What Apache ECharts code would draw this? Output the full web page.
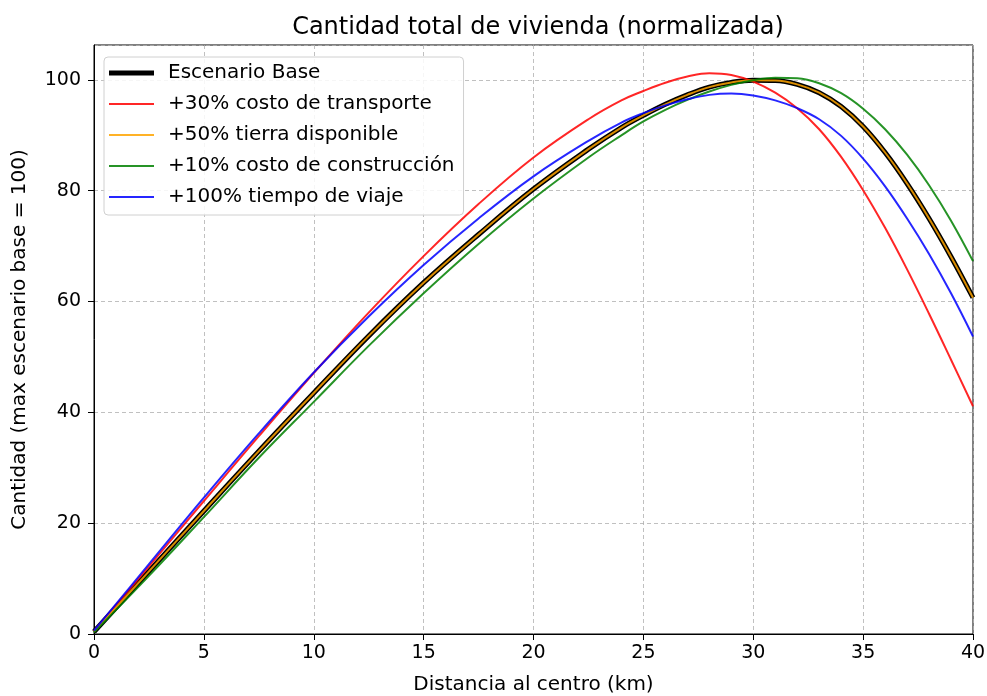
<!DOCTYPE html>
<html>
<head>
<meta charset="utf-8">
<script src="https://cdn.jsdelivr.net/npm/echarts@6/dist/echarts.min.js"></script>
<style>
html,body{margin:0;padding:0;background:#fff;}
#chart{width:987px;height:696px;}
</style>
</head>
<body>
<div id="chart"></div>
<script>
// Data
const distancias    = [0, 2.5, 5, 7.5, 10, 12.5, 15, 17.5, 20, 22.5, 24, 25, 26, 27, 28, 29, 30, 31, 32, 33, 34, 35, 36, 37, 38, 39, 40];
const escenarioBase = [0.4, 11.3, 22.2, 33.0, 43.5, 53.8, 63.4, 72.1, 80.3, 87.5, 91.4, 93.6, 95.6, 97.3, 98.7, 99.55, 99.95, 99.9, 99.2, 97.7, 95.2, 91.6, 86.9, 81.3, 75.0, 68.1, 60.7];
const transporte30  = [0.5, 12.2, 24.0, 35.7, 47.1, 58.0, 68.2, 77.6, 86.0, 92.9, 96.3, 98.0, 99.5, 100.6, 101.2, 100.9, 99.7, 97.7, 94.9, 91.1, 86.1, 80.1, 73.3, 65.8, 57.8, 49.5, 41.1];
const tierra50      = escenarioBase.slice();
const construccion10= [0.3, 10.5, 21.1, 31.8, 41.9, 52.0, 61.5, 70.4, 78.6, 86.0, 90.0, 92.5, 94.6, 96.4, 97.9, 99.1, 99.95, 100.4, 100.3, 99.4, 97.6, 94.8, 91.1, 86.5, 81.0, 74.6, 67.3];
const viaje100      = [0.6, 12.6, 24.6, 36.2, 47.2, 57.3, 66.6, 75.0, 82.6, 89.0, 92.3, 94.0, 95.4, 96.5, 97.3, 97.55, 97.2, 96.3, 94.9, 92.9, 89.9, 85.8, 80.8, 75.0, 68.6, 61.5, 53.7];
const xTicks = [0, 5, 10, 15, 20, 25, 30, 35, 40];
const yTicks = [0, 20, 40, 60, 80, 100];
const nombres = ['Escenario Base', '+30% costo de transporte', '+50% tierra disponible', '+10% costo de construcción', '+100% tiempo de viaje'];

const pairs = (ys) => distancias.map((x, i) => [x, ys[i]]);

const font = 'DejaVu Sans';
const chart = echarts.init(document.getElementById('chart'), null, {renderer: 'canvas'});

function mkSeries(name, ys, color, width, opacity, z) {
  return {
    name: name,
    type: 'line',
    data: pairs(ys),
    smooth: 0.4,
    showSymbol: false,
    symbol: 'none',
    z: z,
    lineStyle: {color: color, width: width, opacity: opacity},
    itemStyle: {color: color, opacity: opacity},
    emphasis: {disabled: true},
    animation: false
  };
}

const thick = 'path://M0,0h45v5h-45z';
const thin = 'path://M0,0h45v1.8h-45z';

chart.setOption({
  animation: false,
  backgroundColor: '#fff',
  title: {
    text: 'Cantidad total de vivienda (normalizada)',
    left: 533, top: 11, textAlign: 'center',
    textStyle: {fontFamily: font, fontSize: 24, fontWeight: 'normal', color: '#000'}
  },
  grid: {
    left: 94, top: 45, width: 879, height: 589,
    outerBoundsMode: 'none', containLabel: false,
    show: true, borderColor: '#000', borderWidth: 1, backgroundColor: 'transparent'
  },
  legend: {
    orient: 'vertical',
    left: 104, top: 57,
    padding: [6, 9, 8, 5],
    itemWidth: 45, itemHeight: 14, itemGap: 11,
    symbolKeepAspect: true,
    backgroundColor: 'rgba(255,255,255,0.85)',
    borderColor: '#d0d0d0', borderWidth: 1, borderRadius: 4,
    textStyle: {fontFamily: font, fontSize: 20, lineHeight: 20, color: '#000', padding: [0, 0, 0, 9]},
    data: [
      {name: nombres[0], icon: thick},
      {name: nombres[1], icon: thin},
      {name: nombres[2], icon: thin},
      {name: nombres[3], icon: thin},
      {name: nombres[4], icon: thin}
    ]
  },
  xAxis: {
    type: 'value', min: 0, max: 40, interval: 5,
    name: 'Distancia al centro (km)', nameLocation: 'middle', nameGap: 41,
    nameTextStyle: {fontFamily: font, fontSize: 20, color: '#000'},
    axisLine: {show: true, lineStyle: {color: '#000', width: 1}},
    axisTick: {show: true, length: 6, lineStyle: {color: '#000'}},
    axisLabel: {fontFamily: font, fontSize: 19, color: '#000', margin: 10,
      formatter: (v) => xTicks.includes(v) ? String(v) : ''},
    splitLine: {show: true, lineStyle: {color: '#b0b0b0', type: [4, 3], width: 0.8}}
  },
  yAxis: {
    type: 'value', min: 0, max: 106.3, interval: 20,
    name: 'Cantidad (max escenario base = 100)', nameLocation: 'middle', nameGap: 64,
    nameTextStyle: {fontFamily: font, fontSize: 20, color: '#000'},
    axisLine: {show: true, lineStyle: {color: '#000', width: 1}},
    axisTick: {show: true, length: 6, lineStyle: {color: '#000'}},
    axisLabel: {fontFamily: font, fontSize: 19, color: '#000', margin: 13, showMaxLabel: false,
      formatter: (v) => yTicks.includes(v) ? String(v) : ''},
    splitLine: {show: true, lineStyle: {color: '#b0b0b0', type: [4, 3], width: 0.8}}
  },
  series: [
    mkSeries(nombres[0], escenarioBase, '#000000', 5, 1, 2),
    mkSeries(nombres[1], transporte30, '#ff0000', 2, 0.85, 3),
    mkSeries(nombres[2], tierra50, '#ffa500', 2, 0.85, 4),
    mkSeries(nombres[3], construccion10, '#008000', 2, 0.85, 5),
    mkSeries(nombres[4], viaje100, '#0000ff', 2, 0.85, 6)
  ]
});
</script>
</body>
</html>
